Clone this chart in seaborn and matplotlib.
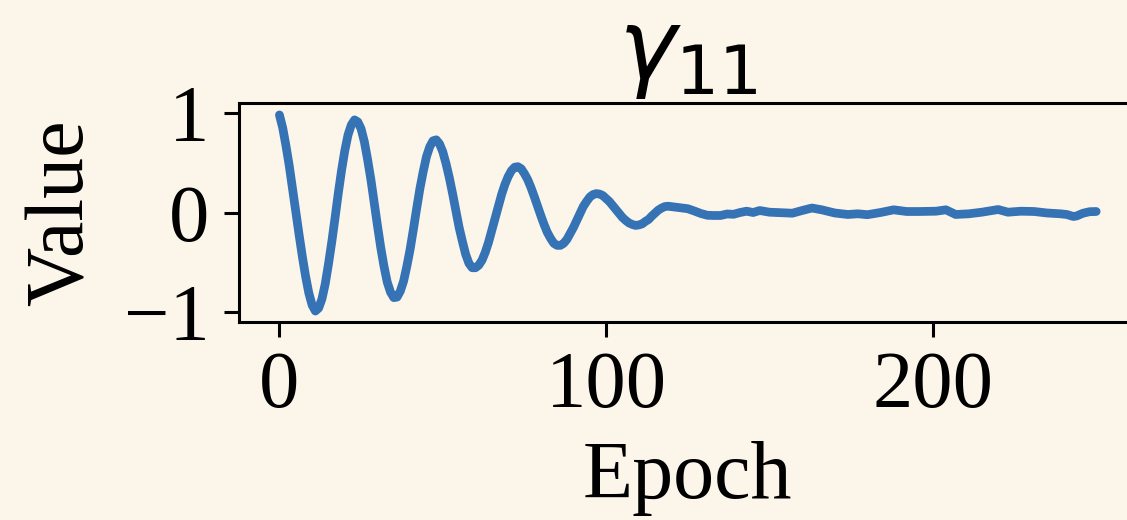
import matplotlib
matplotlib.use("Agg")
import matplotlib.pyplot as plt
import seaborn as sns
import pandas as pd

# ---- data ----
osc_epochs = list(range(0, 120))
osc_values = [
    0.98, 0.85, 0.67, 0.47, 0.24, 0.01, -0.22, -0.44, -0.64, -0.81,
    -0.93, -0.99, -0.96, -0.87, -0.72, -0.52, -0.30, -0.06, 0.19, 0.42,
    0.62, 0.78, 0.88, 0.93, 0.91, 0.84, 0.71, 0.53, 0.33, 0.10,
    -0.13, -0.35, -0.54, -0.70, -0.80, -0.855, -0.85, -0.79, -0.69, -0.54,
    -0.37, -0.17, 0.04, 0.24, 0.41, 0.56, 0.66, 0.72, 0.73, 0.69,
    0.61, 0.49, 0.35, 0.19, 0.02, -0.15, -0.29, -0.42, -0.51, -0.555,
    -0.555, -0.53, -0.48, -0.40, -0.30, -0.18, -0.06, 0.06, 0.18, 0.28,
    0.36, 0.42, 0.455, 0.46, 0.44, 0.39, 0.33, 0.25, 0.16, 0.065,
    -0.03, -0.12, -0.20, -0.26, -0.31, -0.33, -0.33, -0.31, -0.27, -0.21,
    -0.15, -0.08, -0.01, 0.06, 0.11, 0.155, 0.18, 0.19, 0.185, 0.17,
    0.14, 0.11, 0.07, 0.03, -0.01, -0.05, -0.08, -0.105, -0.12, -0.13,
    -0.125, -0.115, -0.09, -0.07, -0.035, -0.005, 0.025, 0.045, 0.06, 0.063,
]
tail_epochs = [121, 123, 125, 127, 129, 131, 133, 135, 137, 139,
               141, 143, 145, 147, 150, 154, 157, 160, 163, 166,
               170, 174, 177, 180, 184, 188, 192, 196, 201, 204,
               207, 211, 215, 220, 223, 227, 231, 235, 239, 241,
               243, 244, 246, 248, 250]
tail_values = [0.055, 0.048, 0.038, 0.015, -0.01, -0.028, -0.03, -0.03, -0.015, -0.018,
               0.0, 0.013, 0.0, 0.02, 0.003, -0.003, -0.007, 0.02, 0.045, 0.027,
               -0.005, -0.02, -0.013, -0.022, 0.0, 0.027, 0.01, 0.01, 0.013, 0.027,
               -0.02, -0.013, 0.003, 0.03, 0.003, 0.013, 0.01, -0.005, -0.013, -0.02,
               -0.04, -0.035, -0.007, 0.008, 0.01]
x_ticks = [0, 100, 200]
y_ticks = [-1, 0, 1]
title_text = r"$\gamma_{11}$"
x_label = "Epoch"
y_label = "Value"

BG = "#fcf6ea"
LINE = "#3573b5"

sns.set_theme(style="ticks")
plt.rcParams["font.family"] = ["Liberation Serif", "DejaVu Serif"]
plt.rcParams["mathtext.fontset"] = "dejavusans"
plt.rcParams["axes.unicode_minus"] = True

df = pd.DataFrame({"Epoch": osc_epochs + tail_epochs,
                   "Value": osc_values + tail_values})

DPI = 100
fig = plt.figure(figsize=(1127 / DPI, 520 / DPI), dpi=DPI, facecolor=BG)
ax = fig.add_axes([238.6 / 1127, 1 - 322 / 520, (1137 - 238.6) / 1127, (322 - 103) / 520])
ax.set_facecolor(BG)

sns.lineplot(data=df, x="Epoch", y="Value", ax=ax, color=LINE, linewidth=6.3)

ax.set_xlim(-12.5, 262.5)
ax.set_ylim(-1.1, 1.1)
ax.set_xticks(x_ticks)
ax.set_yticks(y_ticks)
ax.tick_params(axis="both", labelsize=58, length=10.8, width=2.2, pad=10, color="black", labelcolor="black")
for s in ax.spines.values():
    s.set_linewidth(2.2)
    s.set_color("black")

ax.set_xlabel(x_label, fontsize=59, labelpad=12, color="black")
ax.set_ylabel(y_label, fontsize=59, labelpad=17, color="black")
ax.set_title(title_text, fontsize=70, pad=17, color="black")

fig.savefig("out.png", dpi=DPI, facecolor=BG)
